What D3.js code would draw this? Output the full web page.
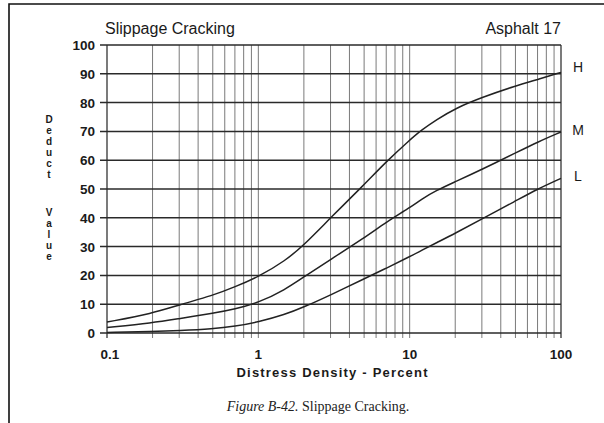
<!DOCTYPE html>
<html>
<head>
<meta charset="utf-8">
<script src="https://cdn.jsdelivr.net/npm/d3@7"></script>
<style>
  html, body { margin: 0; padding: 0; background: #fff; }
  svg { display: block; }
  .stacked { writing-mode: vertical-rl; text-orientation: upright; }
</style>
</head>
<body>
<svg id="chart" width="604" height="423"></svg>
<script>
// Distress density (percent) sample points shared by every curve
const density = [0.1, 0.2, 0.3, 0.5, 0.7, 1, 1.5, 2, 3, 5, 7, 10, 12, 15, 20, 30, 50, 70, 100];

// Deduct values per severity level
const highSeverity   = [3.8, 6.8, 9.8, 13, 16, 19.5, 25, 30.5, 40, 51.5, 59.5, 67, 70.5, 74, 78, 81.8, 85.8, 88, 90.5];
const mediumSeverity = [1.9, 3.5, 5, 6.8, 8.3, 10.5, 15, 19.5, 25.5, 33, 38.5, 43.5, 46.5, 49.5, 52.5, 56.8, 62.5, 66.3, 69.8];
const lowSeverity    = [0.2, 0.5, 0.8, 1.4, 2.3, 3.8, 6.4, 9.0, 13.2, 18.8, 22.5, 26.5, 28.7, 31.3, 34.6, 39.6, 45.8, 50, 53.7];

const severityNames = ["H", "M", "L"];
const yTicks = [0, 10, 20, 30, 40, 50, 60, 70, 80, 90, 100];
const xTickLabels = [0.1, 1, 10, 100];
const yTitleWords = ["Deduct", "Value"];

const svg = d3.select("#chart");
const plotLeft = 107, plotRight = 561, plotTop = 45, plotBottom = 333;

const x = d3.scaleLog().domain([0.1, 100]).range([plotLeft, plotRight]);
const y = d3.scaleLinear().domain([0, 100]).range([plotBottom, plotTop]);

// page frame
svg.append("path")
  .attr("d", "M9,423 L9,4 L604,4")
  .attr("fill", "none").attr("stroke", "#111").attr("stroke-width", 1.6);

// titles
svg.append("text").attr("x", 105).attr("y", 34)
  .attr("font-family", "Liberation Sans, Arial, sans-serif").attr("font-size", 16)
  .attr("fill", "#1a1a1a").text("Slippage Cracking");
svg.append("text").attr("x", 561).attr("y", 34).attr("text-anchor", "end")
  .attr("font-family", "Liberation Sans, Arial, sans-serif").attr("font-size", 16)
  .attr("fill", "#1a1a1a").text("Asphalt 17");

// vertical (log) grid lines
const xGrid = [];
for (let d = 0.1; d < 100; d *= 10) {
  for (let k = 1; k < 10; k++) xGrid.push(+(d * k).toPrecision(3));
}
xGrid.push(100);
svg.append("g").selectAll("line").data(xGrid).join("line")
  .attr("x1", d => x(d)).attr("x2", d => x(d))
  .attr("y1", plotTop).attr("y2", plotBottom + 5)
  .attr("stroke", d => (d === 0.1 || d === 100) ? "#333" : "#7a7a7a")
  .attr("stroke-width", d => (d === 0.1 || d === 100) ? 1.3 : 1);

// horizontal grid lines with left tick stubs
svg.append("g").selectAll("line").data(yTicks).join("line")
  .attr("x1", plotLeft - 7).attr("x2", plotRight)
  .attr("y1", d => y(d)).attr("y2", d => y(d))
  .attr("stroke", "#2a2a2a").attr("stroke-width", 1.5);

// y tick labels
svg.append("g").selectAll("text").data(yTicks).join("text")
  .attr("x", 95).attr("y", d => y(d) + 5)
  .attr("text-anchor", "end")
  .attr("font-family", "Liberation Sans, Arial, sans-serif")
  .attr("font-weight", "bold").attr("font-size", 13.5).attr("fill", "#1a1a1a")
  .text(d => d);

// x tick labels
svg.append("g").selectAll("text").data(xTickLabels).join("text")
  .attr("x", d => x(d) + (d === 0.1 ? 3 : 0)).attr("y", 359)
  .attr("text-anchor", "middle")
  .attr("font-family", "Liberation Sans, Arial, sans-serif")
  .attr("font-weight", "bold").attr("font-size", 13.5).attr("fill", "#1a1a1a")
  .text(d => d);

// x axis title
svg.append("text").attr("x", 332).attr("y", 377).attr("text-anchor", "middle")
  .attr("font-family", "Liberation Sans, Arial, sans-serif")
  .attr("font-weight", "bold").attr("font-size", 13).attr("fill", "#1a1a1a")
  .attr("textLength", 191).attr("lengthAdjust", "spacing")
  .text("Distress Density - Percent");

// y axis title: upright letters stacked top to bottom
const wordTops = [114, 207];
svg.append("g").selectAll("text").data(yTitleWords).join("text")
  .attr("class", "stacked")
  .attr("x", 49).attr("y", (d, i) => wordTops[i])
  .attr("font-family", "Liberation Sans, Arial, sans-serif")
  .attr("font-weight", "bold").attr("font-size", 10).attr("fill", "#1a1a1a")
  .text(d => d);

// severity curves
const series = [highSeverity, mediumSeverity, lowSeverity];
const line = d3.line()
  .x((d, i) => x(density[i]))
  .y(d => y(d))
  .curve(d3.curveBasis);
svg.append("g").selectAll("path").data(series).join("path")
  .attr("d", line)
  .attr("fill", "none").attr("stroke", "#222").attr("stroke-width", 1.5);

// severity labels at the right end of each curve
const labelOffsets = [0, 3, 3];
svg.append("g").selectAll("text").data(series).join("text")
  .attr("x", 578)
  .attr("y", (d, i) => y(d[d.length - 1]) + labelOffsets[i])
  .attr("text-anchor", "middle")
  .attr("font-family", "Liberation Sans, Arial, sans-serif")
  .attr("font-size", 14).attr("fill", "#1a1a1a")
  .text((d, i) => severityNames[i]);

// figure caption
const cap = svg.append("text").attr("x", 318).attr("y", 411).attr("text-anchor", "middle")
  .attr("font-family", "Liberation Serif, Times New Roman, serif")
  .attr("font-size", 14).attr("fill", "#222");
cap.append("tspan").attr("font-style", "italic").text("Figure B-42.");
cap.append("tspan").text("  Slippage Cracking.");
</script>
</body>
</html>
